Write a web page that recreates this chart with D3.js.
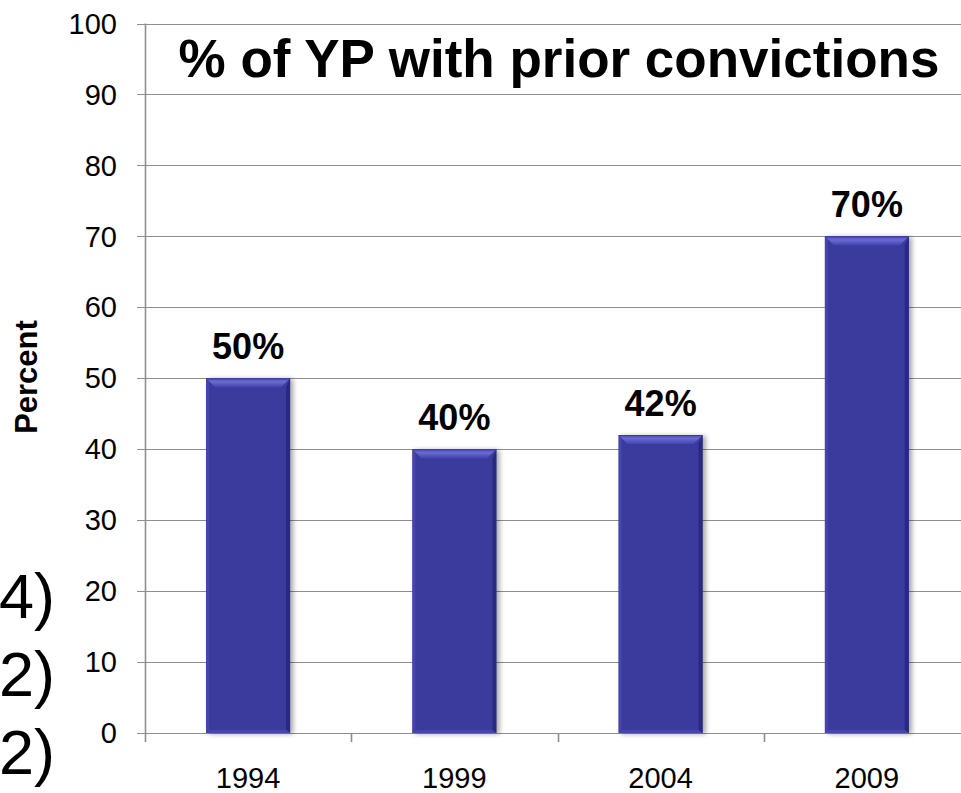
<!DOCTYPE html>
<html>
<head>
<meta charset="utf-8">
<script src="https://cdnjs.cloudflare.com/ajax/libs/d3/7.8.5/d3.min.js"></script>
<style>
  html, body { margin: 0; padding: 0; background: #fff; overflow: hidden; }
  svg { display: block; font-family: Arial, "Liberation Sans", sans-serif; }
</style>
</head>
<body>
<svg id="chart" width="961" height="793"></svg>
<script>
var years = ['1994', '1999', '2004', '2009'];
var percents = [50, 40, 42, 70];
var yTicks = [0, 10, 20, 30, 40, 50, 60, 70, 80, 90, 100];
var sideLabels = ['4)', '2)', '2)'];
var title = '% of YP with prior convictions';
var yTitle = 'Percent';

var svg = d3.select('#chart');

var x = d3.scaleBand()
  .domain(years)
  .range([145, 970])
  .paddingInner(0.593)
  .paddingOuter(0.2965);

var y = d3.scaleLinear()
  .domain([0, 100])
  .range([733, 23.5]);

var gridColor = '#8e8e8e';

// clipped text from the slide behind the chart
svg.append('g')
  .selectAll('text')
  .data(sideLabels)
  .enter().append('text')
  .attr('x', -1)
  .attr('y', function(d, i) { return 618 + i * 78; })
  .style('font-size', '63px')
  .style('fill', '#000')
  .text(function(d) { return d; });

// grid lines (they run a bit left of the axis, doubling as ticks)
svg.append('g')
  .attr('class', 'grid-y')
  .selectAll('line')
  .data(yTicks)
  .enter().append('line')
  .attr('x1', 137)
  .attr('x2', 970)
  .attr('y1', function(d) { return Math.round(y(d)) + 0.5; })
  .attr('y2', function(d) { return Math.round(y(d)) + 0.5; })
  .style('stroke', gridColor)
  .style('stroke-width', 1.6)
  .style('shape-rendering', 'crispEdges');

// y tick labels
svg.append('g')
  .selectAll('text')
  .data(yTicks)
  .enter().append('text')
  .attr('x', 117)
  .attr('y', function(d) { return y(d); })
  .attr('dy', '0.35em')
  .attr('text-anchor', 'end')
  .style('font-size', '29px')
  .style('fill', '#000')
  .text(function(d) { return d; });

// axis lines
svg.append('line')
  .attr('x1', 145.5).attr('x2', 145.5)
  .attr('y1', y(100)).attr('y2', 742)
  .style('stroke', gridColor)
  .style('stroke-width', 1.6);

var step = x.step();
svg.append('g')
  .selectAll('line')
  .data(years.slice(1))
  .enter().append('line')
  .attr('x1', function(d) { return Math.round(x(d) - (step - x.bandwidth()) / 2) + 0.5; })
  .attr('x2', function(d) { return Math.round(x(d) - (step - x.bandwidth()) / 2) + 0.5; })
  .attr('y1', y(0))
  .attr('y2', 742)
  .style('stroke', gridColor)
  .style('stroke-width', 1.6);

// x tick labels
svg.append('g')
  .selectAll('text')
  .data(years)
  .enter().append('text')
  .attr('x', function(d) { return x(d) + x.bandwidth() / 2; })
  .attr('y', 788)
  .attr('text-anchor', 'middle')
  .style('font-size', '29px')
  .style('fill', '#000')
  .text(function(d) { return d; });

// y title
svg.append('text')
  .attr('transform', 'translate(37,377) rotate(-90)')
  .attr('text-anchor', 'middle')
  .style('font-size', '31px')
  .style('font-weight', 'bold')
  .text(yTitle);

// bar styling
var defs = svg.append('defs');
var shadow = defs.append('filter')
  .attr('id', 'shadow')
  .attr('x', '-20%').attr('y', '-10%')
  .attr('width', '150%').attr('height', '130%');
shadow.append('feGaussianBlur')
  .attr('in', 'SourceAlpha')
  .attr('stdDeviation', 2.5);
shadow.append('feOffset')
  .attr('dx', 3).attr('dy', 1)
  .attr('result', 'blur');
shadow.append('feComponentTransfer')
  .append('feFuncA').attr('type', 'linear').attr('slope', 0.35);
var merge = shadow.append('feMerge');
merge.append('feMergeNode');
merge.append('feMergeNode').attr('in', 'SourceGraphic');

var topGrad = defs.append('linearGradient')
  .attr('id', 'bevelTop')
  .attr('x1', 0).attr('y1', 0).attr('x2', 0).attr('y2', 1);
topGrad.append('stop').attr('offset', '0%').attr('stop-color', '#4c4cb4');
topGrad.append('stop').attr('offset', '40%').attr('stop-color', '#6a6ad6');
topGrad.append('stop').attr('offset', '100%').attr('stop-color', '#4444ac');

var bw = x.bandwidth();
var bars = svg.append('g')
  .selectAll('g')
  .data(percents)
  .enter().append('g')
  .attr('transform', function(d, i) { return 'translate(' + x(years[i]) + ',' + y(d) + ')'; })
  .style('filter', 'url(#shadow)');

bars.append('rect')
  .attr('width', bw)
  .attr('height', function(d) { return y(0) - y(d); })
  .style('fill', '#3a3a9e');

// left highlight
bars.append('rect')
  .attr('width', 3)
  .attr('height', function(d) { return y(0) - y(d); })
  .style('fill', '#4444aa');

// right shade
bars.append('polygon')
  .attr('points', function(d) {
    var h = y(0) - y(d);
    return [[bw, 0], [bw, h], [bw - 4, h - 3], [bw - 4, 9]].join(' ');
  })
  .style('fill', '#2b2b7c');

// bottom lip
bars.append('polygon')
  .attr('points', function(d) {
    var h = y(0) - y(d);
    return [[0, h], [bw, h], [bw - 4, h - 3], [3, h - 3]].join(' ');
  })
  .style('fill', '#4646aa');

// top bevel
bars.append('polygon')
  .attr('points', [[0, 0], [bw, 0], [bw - 9, 9], [9, 9]].join(' '))
  .style('fill', 'url(#bevelTop)');

bars.append('line')
  .attr('x1', 0).attr('x2', bw)
  .attr('y1', 0.5).attr('y2', 0.5)
  .style('stroke', '#3a3a98')
  .style('stroke-width', 1);

// value labels
svg.append('g')
  .selectAll('text')
  .data(percents)
  .enter().append('text')
  .attr('x', function(d, i) { return x(years[i]) + bw / 2; })
  .attr('y', function(d) { return y(d) - 19; })
  .attr('text-anchor', 'middle')
  .style('font-size', '36px')
  .style('font-weight', 'bold')
  .style('fill', '#000')
  .text(function(d) { return d + '%'; });

// chart title
svg.append('text')
  .attr('x', 559)
  .attr('y', 77)
  .attr('text-anchor', 'middle')
  .style('font-size', '53px')
  .style('font-weight', 'bold')
  .style('fill', '#000')
  .text(title);
</script>
</body>
</html>
